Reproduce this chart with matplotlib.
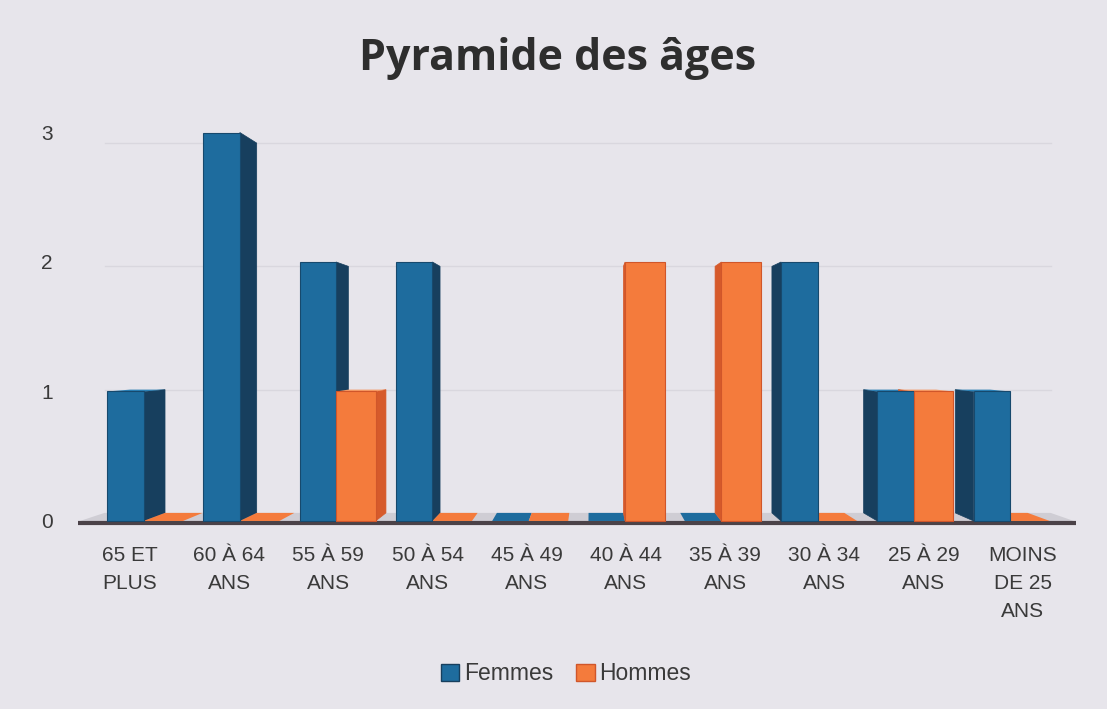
import matplotlib
matplotlib.use("Agg")
import matplotlib.pyplot as plt
from matplotlib.patches import Polygon, Patch

# ---- data ----
categories = ["65 ET\nPLUS", "60 À 64\nANS", "55 À 59\nANS", "50 À 54\nANS",
              "45 À 49\nANS", "40 À 44\nANS", "35 À 39\nANS", "30 À 34\nANS",
              "25 À 29\nANS", "MOINS\nDE 25\nANS"]
femmes = [1, 3, 2, 2, 0, 0, 0, 2, 1, 1]
hommes = [0, 0, 1, 0, 0, 2, 2, 0, 1, 0]
series_names = ["Femmes", "Hommes"]
y_ticks = [0, 1, 2, 3]
title = "Pyramide des âges"

# ---- style ----
BG = "#e7e5eb"
BLUE = dict(front="#1e6c9e", side="#173f5e", top="#2a80b5", edge="#17496d")
ORANGE = dict(front="#f47b3c", side="#d65a2b", top="#f79a65", edge="#d0562a")
TXT = "#3a3a3a"
VPX, VPY = 4.64, 1.3   # vanishing point (perspective styling)
T = 0.048              # depth factor


def back(x, y):
    return (x + T * (VPX - x), y + T * (VPY - y))


fig = plt.figure(figsize=(11.07, 7.09), dpi=100, facecolor=BG)
ax = fig.add_axes([0.0688, 0.2378, 0.9047, 0.6301])
ax.set_xlim(-0.7, 9.7)
ax.set_ylim(-0.15, 3.3)
ax.set_facecolor("none")
for s in ax.spines.values():
    s.set_visible(False)

# back-wall gridlines
for v in y_ticks[1:]:
    p0 = back(-0.66, v)
    p1 = back(9.66, v)
    ax.plot([p0[0], p1[0]], [p0[1], p1[1]], color="#d9d7de", lw=1.0, zorder=0)

# floor
floor = [(-0.66, 0), (9.66, 0), back(9.66, 0), back(-0.66, 0)]
ax.add_patch(Polygon(floor, closed=True, fc="#cfcdd4", ec="none", zorder=1))
ax.plot([-0.68, 9.68], [-0.012, -0.012], color="#4b4248", lw=3,
        solid_capstyle="butt", zorder=2)

bars = []
for i in range(len(categories)):
    bars.append((i - 0.38, 0.38, femmes[i], BLUE))
    bars.append((i, 0.41, hommes[i], ORANGE))

# back faces (sides, tops, flat plates)
for x0, w, h, c in bars:
    x1 = x0 + w
    if h == 0:
        ax.add_patch(Polygon([(x0, 0), (x1, 0), back(x1, 0), back(x0, 0)],
                             closed=True, fc=c["front"], ec="none", zorder=3))
        continue
    if x1 < VPX:
        ax.add_patch(Polygon([(x1, 0), (x1, h), back(x1, h), back(x1, 0)],
                             closed=True, fc=c["side"], ec=c["side"], lw=0.5, zorder=3))
    elif x0 > VPX:
        ax.add_patch(Polygon([(x0, 0), (x0, h), back(x0, h), back(x0, 0)],
                             closed=True, fc=c["side"], ec=c["side"], lw=0.5, zorder=3))
    if h < VPY:
        ax.add_patch(Polygon([(x0, h), (x1, h), back(x1, h), back(x0, h)],
                             closed=True, fc=c["top"], ec="none", zorder=3))

# front faces
for x0, w, h, c in bars:
    if h > 0:
        ax.bar(x0, h, width=w, align="edge", color=c["front"],
               edgecolor=c["edge"], linewidth=0.8, zorder=4)

# ticks
label_pos = [-0.141 + 1.030 * i for i in range(len(categories))]
ax.set_xticks(label_pos)
ax.set_xticklabels(categories, fontsize=15, color=TXT, linespacing=1.6,
                   family="Liberation Sans")
ax.set_yticks(y_ticks)
ax.set_yticklabels([str(v) for v in y_ticks], fontsize=15, color=TXT,
                   family="Liberation Sans")
ax.tick_params(axis="x", length=0, pad=4)
ax.tick_params(axis="y", length=0, pad=17)

fig.text(558 / 1107, 1 - 70 / 709, title, ha="center", va="baseline",
         fontsize=31, fontweight="bold", family="Open Sans", color="#2e2e2e")

handles = [Patch(fc=BLUE["front"], ec=BLUE["side"]),
           Patch(fc=ORANGE["front"], ec=ORANGE["edge"])]
fig.legend(handles=handles, labels=series_names, loc="center",
           bbox_to_anchor=(566 / 1107, 1 - 674 / 709), ncol=2, frameon=False,
           prop={"family": "Liberation Sans", "size": 16.5},
           labelcolor=TXT, handlelength=0.8, handleheight=0.8,
           handletextpad=0.2, columnspacing=1.0)

fig.savefig("out.png", dpi=100, facecolor=BG)
